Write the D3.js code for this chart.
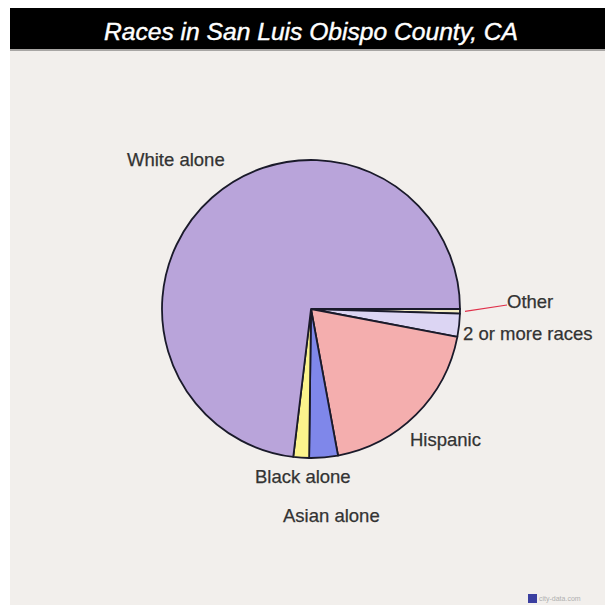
<!DOCTYPE html>
<html>
<head>
<meta charset="utf-8">
<script src="https://cdn.jsdelivr.net/npm/d3@7"></script>
<style>
  html, body { margin: 0; padding: 0; background: #fff; }
  svg { display: block; font-family: "Liberation Sans", Arial, sans-serif; }
</style>
</head>
<body>
<div id="chart"></div>
<script>
// slices in drawing order, clockwise from 3 o'clock
const categories = ['Other', '2 or more races', 'Hispanic', 'Asian alone', 'Black alone', 'White alone'];
const shares = [0.5, 2.5, 19.1, 3.1, 1.7, 73.1];
const sliceColors = ['#f3ecc4', '#dcd5f3', '#f4aeae', '#7f87ea', '#fbf38c', '#b9a4da'];
// label anchors (text only)
const labelPos = [[507, 308], [463, 340], [410, 446], [283, 522], [255, 483], [127, 166]];

const w = 605;
const h = 605;
const cx = 311;
const cy = 309;
const r = 149;

const svg = d3.select('#chart')
  .append('svg')
  .attr('width', w)
  .attr('height', h);

// panel + title bar
svg.append('rect')
  .attr('x', 10).attr('y', 8)
  .attr('width', w - 10).attr('height', h - 8)
  .attr('fill', '#f2efec');

svg.append('rect')
  .attr('x', 10).attr('y', 8)
  .attr('width', w - 10).attr('height', 41)
  .attr('fill', '#000');

svg.append('rect')
  .attr('x', 10).attr('y', 49)
  .attr('width', w - 10).attr('height', 2)
  .attr('fill', '#a8a6a4');

svg.append('text')
  .attr('x', 311).attr('y', 40)
  .attr('text-anchor', 'middle')
  .attr('fill', '#fff')
  .attr('stroke', '#fff')
  .attr('stroke-width', 0.4)
  .attr('font-size', 23)
  .attr('font-style', 'italic')
  .attr('textLength', 414)
  .attr('lengthAdjust', 'spacingAndGlyphs')
  .text('Races in San Luis Obispo County, CA');

const data = categories.map((c, i) => ({ name: c, value: shares[i], color: sliceColors[i] }));

const pie = d3.pie()
  .sort(null)
  .value(d => d.value)
  .startAngle(Math.PI / 2)
  .endAngle(Math.PI / 2 + 2 * Math.PI);

const arc = d3.arc().innerRadius(0).outerRadius(r);
const arcs = pie(data);

const g = svg.append('g').attr('transform', `translate(${cx},${cy})`);

g.selectAll('path')
  .data(arcs)
  .enter()
  .append('path')
  .attr('d', arc)
  .attr('fill', d => d.data.color)
  .attr('stroke', '#1a1a2a')
  .attr('stroke-width', 1.8)
  .attr('stroke-linejoin', 'round');

// red leader line for the thin "Other" slice
const other = arcs[0];
const midA = (other.startAngle + other.endAngle) / 2;
const leaderStart = [cx + Math.sin(midA) * (r + 5), cy - Math.cos(midA) * (r + 5)];
svg.append('line')
  .attr('x1', leaderStart[0]).attr('y1', leaderStart[1])
  .attr('x2', labelPos[0][0]).attr('y2', labelPos[0][1] - 3)
  .attr('stroke', '#e0304a')
  .attr('stroke-width', 1.2);

svg.selectAll('text.lbl')
  .data(categories)
  .enter()
  .append('text')
  .attr('class', 'lbl')
  .attr('x', (d, i) => labelPos[i][0])
  .attr('y', (d, i) => labelPos[i][1])
  .attr('fill', '#333')
  .attr('stroke', '#333')
  .attr('stroke-width', 0.25)
  .attr('font-size', 18.5)
  .text(d => d);

// source mark
svg.append('rect')
  .attr('x', 528).attr('y', 594)
  .attr('width', 9).attr('height', 9)
  .attr('fill', '#3b3fa0');
svg.append('text')
  .attr('x', 539).attr('y', 601)
  .attr('fill', '#b0b0b0')
  .attr('font-size', 7)
  .text('city-data.com');
</script>
</body>
</html>
